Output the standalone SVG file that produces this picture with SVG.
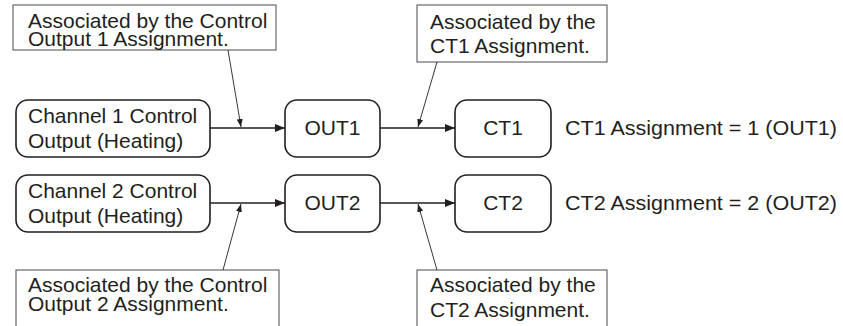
<svg xmlns="http://www.w3.org/2000/svg" width="843" height="326" viewBox="0 0 843 326">
<style>
text{font-family:"Liberation Sans",Arial,sans-serif;font-size:21px;fill:#231f20}
.node{fill:#fff;stroke:#231f20;stroke-width:1.6}
.call{fill:#fff;stroke:#4a4a4a;stroke-width:1}
.conn{stroke:#231f20;stroke-width:1.6;fill:none}
.lead{stroke:#231f20;stroke-width:0.9;fill:none}
.mid{text-anchor:middle}
</style>
<defs>
<marker id="ah" viewBox="0 0 10 8" refX="10" refY="4" markerWidth="10" markerHeight="8" markerUnits="userSpaceOnUse" orient="auto"><path d="M0,0L10,4L0,8z" fill="#231f20"/></marker>
<marker id="ahs" viewBox="0 0 8 6" refX="8" refY="3" markerWidth="8" markerHeight="6" markerUnits="userSpaceOnUse" orient="auto"><path d="M0,0L8,3L0,6z" fill="#231f20"/></marker>
</defs>
<g id="callout1"><rect class="call" x="13" y="5" width="263" height="45"/><text x="28" y="28">Associated by the Control</text><text x="28" y="46">Output 1 Assignment.</text></g>
<g id="callout2"><rect class="call" x="417" y="5" width="190" height="57"/><text x="430" y="29">Associated by the</text><text x="430" y="53">CT1 Assignment.</text></g>
<g id="callout3"><rect class="call" x="16" y="270" width="263" height="60"/><text x="28" y="292">Associated by the Control</text><text x="28" y="311">Output 2 Assignment.</text></g>
<g id="callout4"><rect class="call" x="417" y="270" width="190" height="60"/><text x="430" y="292">Associated by the</text><text x="430" y="317">CT2 Assignment.</text></g>
<g id="ch1"><rect class="node" x="16" y="100" width="194" height="57" rx="12"/><text x="28" y="123">Channel 1 Control</text><text x="28" y="148">Output (Heating)</text></g>
<g id="out1"><rect class="node" x="285" y="100" width="95" height="57" rx="12"/><text class="mid" x="332.5" y="135">OUT1</text></g>
<g id="ct1"><rect class="node" x="455" y="100" width="96" height="57" rx="12"/><text class="mid" x="503" y="135">CT1</text></g>
<g id="label1"><text x="565" y="135" textLength="272" lengthAdjust="spacingAndGlyphs">CT1 Assignment = 1 (OUT1)</text></g>
<g id="ch2"><rect class="node" x="16" y="175" width="194" height="57" rx="12"/><text x="28" y="198">Channel 2 Control</text><text x="28" y="223">Output (Heating)</text></g>
<g id="out2"><rect class="node" x="285" y="175" width="95" height="57" rx="12"/><text class="mid" x="332.5" y="210">OUT2</text></g>
<g id="ct2"><rect class="node" x="455" y="175" width="96" height="57" rx="12"/><text class="mid" x="503" y="210">CT2</text></g>
<g id="label2"><text x="565" y="210" textLength="272" lengthAdjust="spacingAndGlyphs">CT2 Assignment = 2 (OUT2)</text></g>
<g id="connectors">
<line class="conn" x1="210" y1="128" x2="285" y2="128" marker-end="url(#ah)"/>
<line class="conn" x1="380" y1="128" x2="455" y2="128" marker-end="url(#ah)"/>
<line class="conn" x1="210" y1="203" x2="285" y2="203" marker-end="url(#ah)"/>
<line class="conn" x1="380" y1="203" x2="455" y2="203" marker-end="url(#ah)"/>
<line class="lead" x1="228" y1="50" x2="241" y2="127" marker-end="url(#ahs)"/>
<line class="lead" x1="437" y1="62" x2="418" y2="127" marker-end="url(#ahs)"/>
<line class="lead" x1="223" y1="270" x2="241" y2="204" marker-end="url(#ahs)"/>
<line class="lead" x1="437" y1="270" x2="418" y2="204" marker-end="url(#ahs)"/>
</g>
</svg>
